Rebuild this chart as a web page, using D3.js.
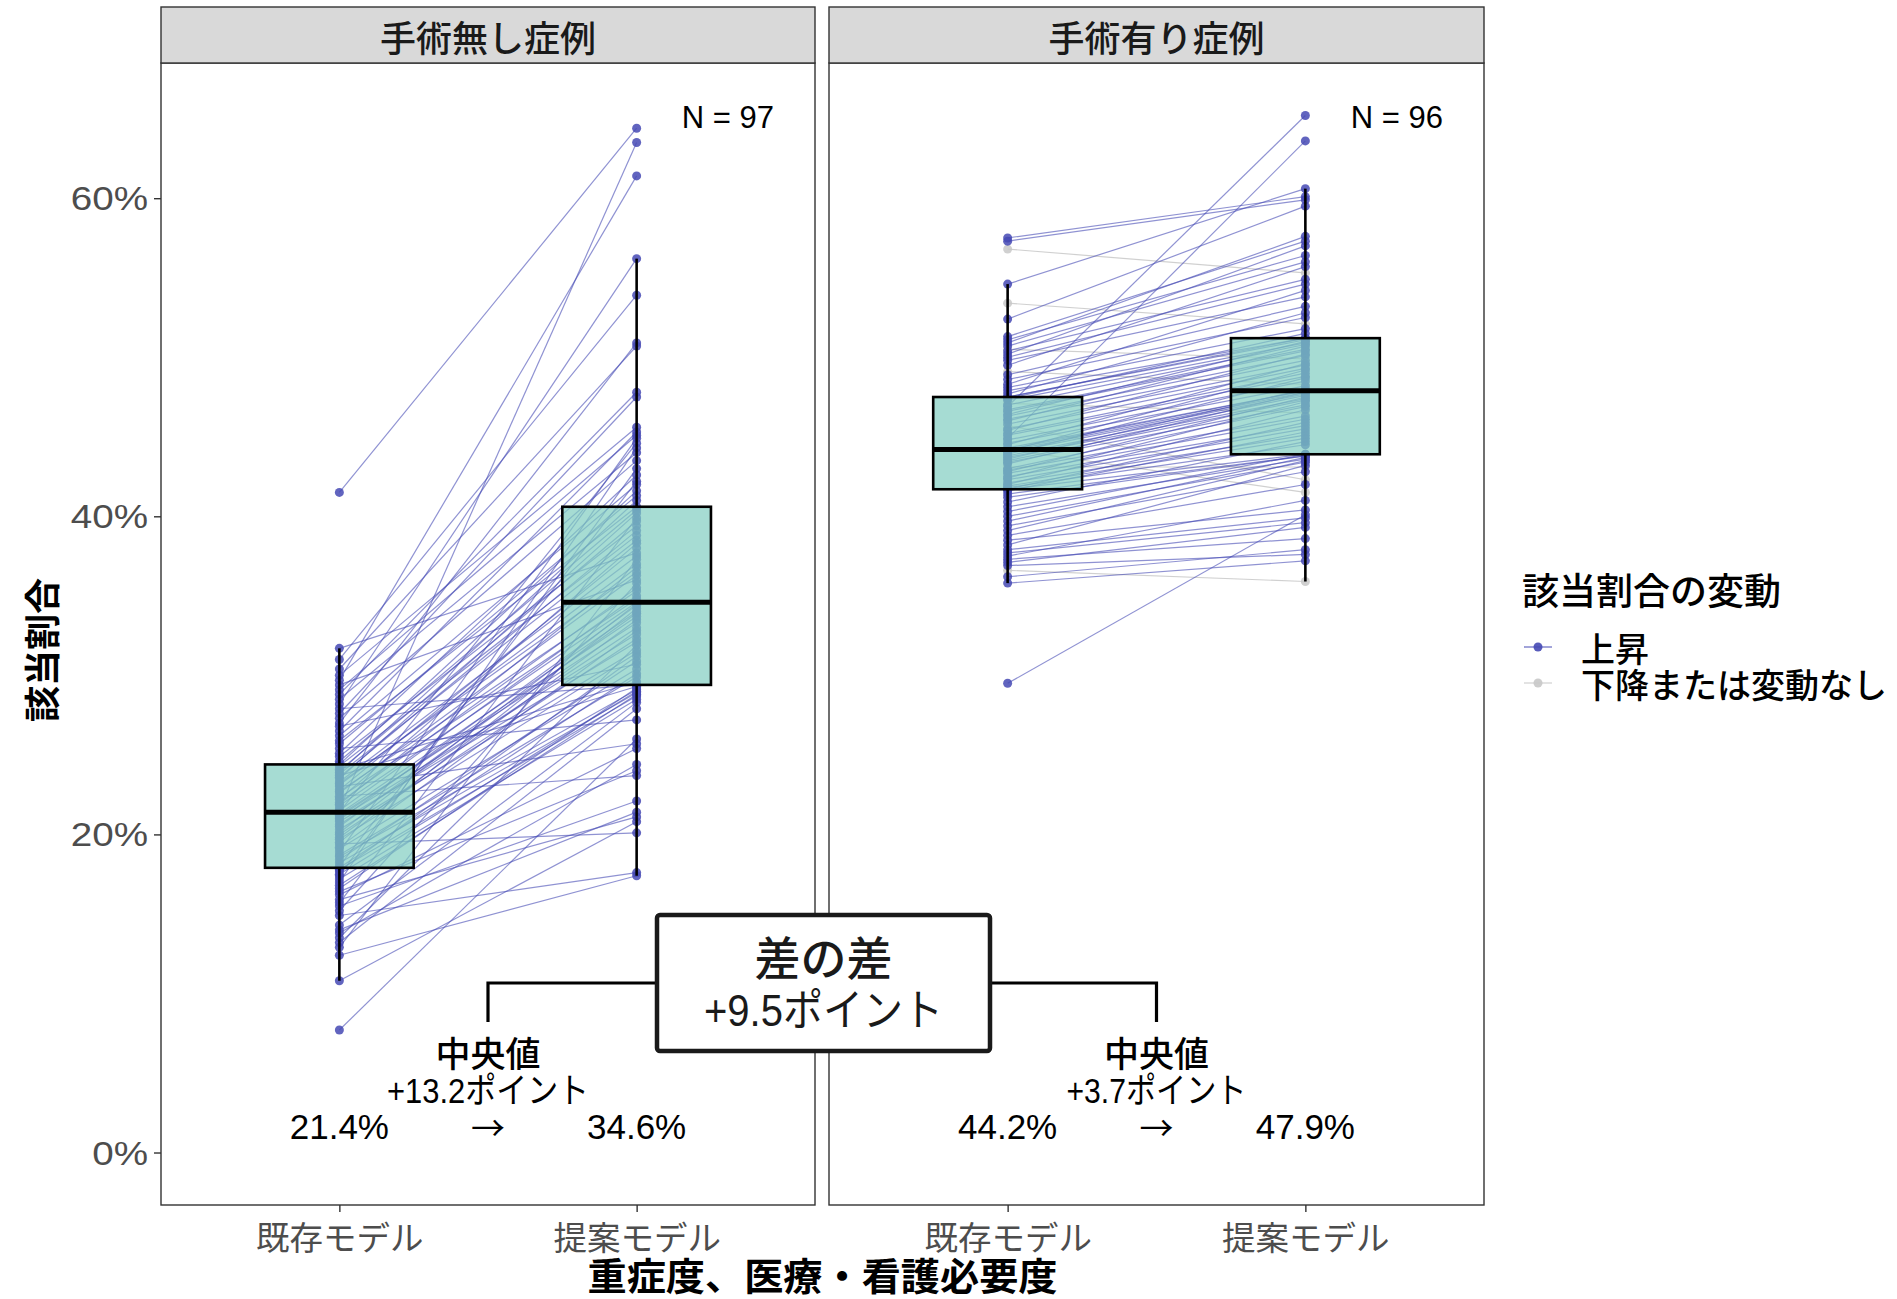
<!DOCTYPE html>
<html>
<head>
<meta charset="utf-8">
<script src="https://cdn.jsdelivr.net/npm/d3@7"></script>
<style>
  body { margin: 0; background: #ffffff; }
  svg { display: block; }
</style>
</head>
<body>
<svg id="chart" width="1897" height="1299"></svg>
<script>
// ---- data -----------------------------------------------------------------
const facets = ["手術無し症例", "手術有り症例"];
const models = ["既存モデル", "提案モデル"];
const yTicks = [0, 20, 40, 60];
const sampleSizes = [97, 96];

// 手術無し症例: 既存モデル / 提案モデル (same case order)
const noSurgeryExisting = [
  7.7, 10.8, 12.4, 12.9, 13.2, 13.5, 13.8, 14.0, 14.3, 14.9,
  15.2, 15.5, 15.7, 15.9, 16.2, 16.4, 16.6, 16.8, 17.0, 17.2,
  17.4, 17.5, 17.7, 17.8, 17.9, 18.0, 18.2, 18.4, 18.6, 18.7,
  18.9, 19.1, 19.2, 19.4, 19.5, 19.7, 19.8, 20.0, 20.1, 20.3,
  20.5, 20.6, 20.8, 20.9, 21.0, 21.1, 21.2, 21.3, 21.4, 21.5,
  21.6, 21.8, 21.9, 22.0, 22.2, 22.3, 22.4, 22.6, 22.7, 22.8,
  23.0, 23.1, 23.2, 23.3, 23.5, 23.6, 23.7, 23.8, 23.9, 24.0,
  24.1, 24.3, 24.4, 24.6, 24.9, 25.1, 25.4, 25.7, 25.9, 26.2,
  26.5, 26.8, 27.0, 27.3, 27.6, 27.9, 28.2, 28.5, 28.8, 29.1,
  29.4, 29.7, 30.0, 30.4, 31.0, 31.7, 41.5
];
const noSurgeryProposed = [
  26.0, 20.8, 17.4, 37.3, 27.9, 31.9, 24.4, 21.4, 28.3, 17.6,
  35.8, 22.1, 39.9, 21.1, 25.4, 24.0, 29.2, 28.8, 44.3, 28.5,
  43.0, 29.0, 31.2, 28.7, 30.1, 42.2, 28.9, 30.9, 29.1, 29.9,
  44.9, 30.4, 32.8, 20.1, 34.2, 31.4, 33.5, 32.3, 34.5, 31.6,
  33.9, 33.0, 32.1, 34.4, 32.6, 33.7, 33.3, 34.0, 44.6, 35.0,
  63.5, 34.6, 36.8, 35.5, 38.3, 34.8, 23.7, 36.3, 35.3, 38.0,
  25.7, 37.0, 36.5, 37.5, 40.2, 39.1, 29.3, 38.5, 41.0, 39.7,
  29.6, 38.8, 41.6, 40.4, 39.4, 42.6, 27.2, 41.3, 40.6, 42.0,
  45.3, 30.7, 50.9, 43.5, 47.5, 29.4, 56.2, 44.0, 47.8, 45.1,
  36.0, 61.4, 45.6, 50.7, 53.9, 37.7, 64.4
];

// 手術有り症例: 既存モデル / 提案モデル (same case order)
const surgeryExisting = [
  29.5, 35.8, 36.2, 36.6, 36.9, 37.1, 37.3, 37.5, 37.7, 37.9,
  38.2, 38.5, 38.8, 39.1, 39.4, 39.7, 40.0, 40.3, 40.6, 40.9,
  41.2, 41.4, 41.6, 41.7, 41.7, 41.8, 41.9, 42.0, 42.1, 42.3,
  42.4, 42.5, 42.7, 42.8, 42.9, 43.0, 43.1, 43.3, 43.4, 43.5,
  43.6, 43.7, 43.8, 43.9, 44.0, 44.1, 44.1, 44.2, 44.2, 44.3,
  44.5, 44.6, 44.8, 44.9, 45.1, 45.2, 45.4, 45.5, 45.7, 45.8,
  46.0, 46.1, 46.3, 46.4, 46.6, 46.7, 46.9, 47.0, 47.1, 47.3,
  47.4, 47.5, 47.5, 47.7, 47.9, 48.1, 48.3, 48.6, 48.9, 49.1,
  49.5, 49.8, 50.0, 50.2, 50.4, 50.5, 50.7, 50.9, 51.1, 51.3,
  52.4, 53.4, 54.6, 56.8, 57.3, 57.5
];
const surgeryProposed = [
  40.1, 37.2, 37.9, 35.9, 37.6, 39.3, 38.6, 41.0, 39.6, 39.9,
  43.2, 40.4, 42.0, 43.5, 42.8, 43.7, 43.4, 43.9, 43.6, 44.7,
  43.8, 43.8, 45.3, 43.9, 45.9, 44.5, 44.9, 46.7, 45.1, 45.5,
  47.2, 45.7, 46.1, 47.5, 46.3, 46.9, 43.1, 47.8, 47.0, 47.3,
  48.0, 47.4, 47.6, 48.7, 47.7, 47.8, 49.2, 41.5, 47.9, 47.9,
  49.6, 48.2, 48.5, 63.6, 48.8, 49.0, 50.2, 49.3, 42.3, 49.5,
  50.7, 49.8, 50.1, 51.0, 50.4, 50.5, 65.2, 50.8, 46.5, 50.9,
  51.5, 51.1, 51.2, 52.8, 51.2, 51.8, 54.2, 52.5, 53.2, 48.3,
  55.7, 53.8, 54.6, 57.0, 54.9, 49.9, 56.0, 57.6, 56.4, 57.3,
  59.5, 52.1, 60.6, 55.3, 59.9, 60.1
];

const legendTitle = "該当割合の変動";
const legendLabels = ["上昇", "下降または変動なし"];
const xTitle = "重症度、医療・看護必要度";
const yTitle = "該当割合";
const medianWord = "中央値";
const diffWord = "差の差";
const pointWord = "ポイント";

// ---- layout ---------------------------------------------------------------
const svg = d3.select("#chart");
const panelTop = 63, panelBottom = 1205, stripTop = 7;
const panelX = [[161, 815], [829, 1484]];
const y = d3.scaleLinear().domain([-3.3, 68.5]).range([panelBottom, panelTop]);

const latin = "'Liberation Sans', Arial, 'Noto Sans CJK JP', sans-serif";
const cjk = "'Noto Sans CJK JP', 'Noto Sans CJK SC', sans-serif";
const UP = "#4549b4", FLAT = "#c8c8c8", BOXFILL = "#80cdc1", INK = "#1a1a1a";
const fmt1 = d3.format(".1f");

const groups = [
  { existing: noSurgeryExisting, proposed: noSurgeryProposed },
  { existing: surgeryExisting, proposed: surgeryProposed }
];

function boxStats(vals) {
  const s = vals.slice().sort(d3.ascending);
  const q1 = d3.quantile(s, 0.25), med = d3.quantile(s, 0.5), q3 = d3.quantile(s, 0.75);
  const iqr = q3 - q1;
  const lo = d3.min(s.filter(v => v >= q1 - 1.5 * iqr));
  const hi = d3.max(s.filter(v => v <= q3 + 1.5 * iqr));
  return { q1, med, q3, lo, hi };
}

const medianInfo = [];

groups.forEach((g, i) => {
  const [x0, x1] = panelX[i];
  const x = d3.scalePoint().domain(models).range([x0, x1]).padding(0.6);
  const bw = x.step() * 0.5;
  const layer = svg.append("g");

  layer.append("rect")
    .attr("x", x0).attr("y", panelTop)
    .attr("width", x1 - x0).attr("height", panelBottom - panelTop)
    .attr("fill", "#ffffff");

  const pairs = g.existing.map((e, k) => ({ e, p: g.proposed[k], up: g.proposed[k] > e }));
  // falling / unchanged pairs underneath, rising pairs on top
  const ordered = pairs.filter(d => !d.up).concat(pairs.filter(d => d.up));

  layer.append("g").selectAll("line").data(ordered).join("line")
    .attr("x1", x(models[0])).attr("x2", x(models[1]))
    .attr("y1", d => y(d.e)).attr("y2", d => y(d.p))
    .attr("stroke", d => d.up ? UP : FLAT)
    .attr("stroke-opacity", d => d.up ? 0.6 : 0.85)
    .attr("stroke-width", 1.2);

  const pts = ordered.flatMap(d => [
    { m: models[0], v: d.e, up: d.up },
    { m: models[1], v: d.p, up: d.up }
  ]);
  layer.append("g").selectAll("circle").data(pts).join("circle")
    .attr("cx", d => x(d.m)).attr("cy", d => y(d.v)).attr("r", 4.5)
    .attr("fill", d => d.up ? UP : FLAT)
    .attr("fill-opacity", 0.85);

  const stats = [g.existing, g.proposed].map(boxStats);
  stats.forEach((st, j) => {
    const cx = x(models[j]);
    const bx = layer.append("g");
    bx.append("line").attr("x1", cx).attr("x2", cx).attr("y1", y(st.hi)).attr("y2", y(st.q3))
      .attr("stroke", "#000").attr("stroke-width", 2.6);
    bx.append("line").attr("x1", cx).attr("x2", cx).attr("y1", y(st.q1)).attr("y2", y(st.lo))
      .attr("stroke", "#000").attr("stroke-width", 2.6);
    bx.append("rect")
      .attr("x", cx - bw / 2).attr("y", y(st.q3))
      .attr("width", bw).attr("height", y(st.q1) - y(st.q3))
      .attr("fill", BOXFILL).attr("fill-opacity", 0.7)
      .attr("stroke", "#000").attr("stroke-width", 2.6);
    bx.append("line").attr("x1", cx - bw / 2).attr("x2", cx + bw / 2)
      .attr("y1", y(st.med)).attr("y2", y(st.med))
      .attr("stroke", "#000").attr("stroke-width", 5);
  });

  // panel border
  layer.append("rect")
    .attr("x", x0).attr("y", panelTop)
    .attr("width", x1 - x0).attr("height", panelBottom - panelTop)
    .attr("fill", "none").attr("stroke", "#333333").attr("stroke-width", 1.4);

  // strip
  layer.append("rect")
    .attr("x", x0).attr("y", stripTop)
    .attr("width", x1 - x0).attr("height", panelTop - stripTop)
    .attr("fill", "#d9d9d9").attr("stroke", "#333333").attr("stroke-width", 1.4);
  layer.append("text")
    .attr("x", (x0 + x1) / 2).attr("y", (stripTop + panelTop) / 2 + 1)
    .attr("text-anchor", "middle").attr("dominant-baseline", "central")
    .style("font-family", cjk).style("font-size", "36px").style("font-weight", 500).attr("fill", INK)
    .text(facets[i]);

  // sample size
  layer.append("text")
    .attr("x", x1 - 41).attr("y", 117)
    .attr("text-anchor", "end").attr("dominant-baseline", "central")
    .style("font-family", latin).style("font-size", "31px").attr("fill", "#000")
    .text(`N = ${sampleSizes[i]}`);

  // x axis
  const xa = svg.append("g").attr("transform", `translate(0,${panelBottom})`)
    .call(d3.axisBottom(x).tickSize(7));
  xa.select(".domain").remove();
  xa.selectAll(".tick line").attr("stroke", "#333333").attr("stroke-width", 1.4);
  xa.selectAll(".tick text")
    .attr("y", 30).attr("dy", null).attr("dominant-baseline", "central")
    .style("font-family", cjk).style("font-size", "33.5px").attr("fill", "#4d4d4d")
    .text(d => d);

  // median annotation
  const mx = (x(models[0]) + x(models[1])) / 2;
  const change = stats[1].med - stats[0].med;
  medianInfo.push({ mx, change });
  const ann = svg.append("g").attr("fill", "#000")
    .attr("text-anchor", "middle").attr("dominant-baseline", "central");
  ann.append("text").attr("x", mx).attr("y", 1051)
    .style("font-family", cjk).style("font-size", "35px").style("font-weight", 500)
    .attr("textLength", 105).attr("lengthAdjust", "spacingAndGlyphs")
    .text(medianWord);
  ann.append("text").attr("x", mx).attr("y", 1090)
    .style("font-family", latin).style("font-size", "35px")
    .attr("textLength", i === 0 ? 202 : 180).attr("lengthAdjust", "spacingAndGlyphs")
    .text(`+${fmt1(change)}${pointWord}`);
  ann.append("text").attr("x", x(models[0])).attr("y", 1126)
    .style("font-family", latin).style("font-size", "35px")
    .text(`${fmt1(stats[0].med)}%`);
  ann.append("text").attr("x", mx).attr("y", 1126)
    .style("font-family", cjk).style("font-size", "34px")
    .text("→");
  ann.append("text").attr("x", x(models[1])).attr("y", 1126)
    .style("font-family", latin).style("font-size", "35px")
    .text(`${fmt1(stats[1].med)}%`);
});

// y axis (left panel only)
const ya = svg.append("g").attr("transform", `translate(${panelX[0][0]},0)`)
  .call(d3.axisLeft(y).tickValues(yTicks).tickFormat(d => `${d}%`).tickSize(7).tickPadding(6));
ya.select(".domain").remove();
ya.selectAll(".tick line").attr("stroke", "#333333").attr("stroke-width", 1.4);
ya.selectAll(".tick text")
  .attr("dy", null).attr("dominant-baseline", "central")
  .style("font-family", latin).style("font-size", "33px").attr("fill", "#4d4d4d")
  .each(function () {
    const w = this.getComputedTextLength();
    d3.select(this).attr("textLength", w * 1.17).attr("lengthAdjust", "spacingAndGlyphs");
  });

// difference-in-differences callout
const boxL = 657, boxR = 990, boxT = 915, boxB = 1051, linkY = 983, linkBottom = 1022;
const callout = svg.append("g");
callout.append("path")
  .attr("d", `M${boxL},${linkY}H${medianInfo[0].mx}V${linkBottom}M${boxR},${linkY}H${medianInfo[1].mx}V${linkBottom}`)
  .attr("fill", "none").attr("stroke", "#000").attr("stroke-width", 3.2);
callout.append("rect")
  .attr("x", boxL).attr("y", boxT).attr("width", boxR - boxL).attr("height", boxB - boxT)
  .attr("rx", 3).attr("fill", "#ffffff").attr("stroke", "#1a1a1a").attr("stroke-width", 4.5);
callout.append("text")
  .attr("x", (boxL + boxR) / 2).attr("y", 955)
  .attr("text-anchor", "middle").attr("dominant-baseline", "central")
  .style("font-family", cjk).style("font-size", "46px").style("font-weight", 500).attr("fill", INK)
  .text(diffWord);
callout.append("text")
  .attr("x", (boxL + boxR) / 2).attr("y", 1010)
  .attr("text-anchor", "middle").attr("dominant-baseline", "central")
  .style("font-family", latin).style("font-size", "44px").attr("fill", INK)
  .attr("textLength", 239).attr("lengthAdjust", "spacingAndGlyphs")
  .text(`+${fmt1(medianInfo[0].change - medianInfo[1].change)}${pointWord}`);

// axis titles
svg.append("text")
  .attr("x", (panelX[0][0] + panelX[1][1]) / 2).attr("y", 1273)
  .attr("text-anchor", "middle").attr("dominant-baseline", "central")
  .style("font-family", cjk).style("font-size", "38px").style("font-weight", "bold").attr("fill", "#000")
  .attr("textLength", 470).attr("lengthAdjust", "spacingAndGlyphs")
  .text(xTitle);
svg.append("text")
  .attr("transform", `translate(40,650) rotate(-90)`)
  .attr("text-anchor", "middle").attr("dominant-baseline", "central")
  .style("font-family", cjk).style("font-size", "36px").style("font-weight", "bold").attr("fill", "#000")
  .text(yTitle);

// legend
const lg = svg.append("g");
lg.append("text")
  .attr("x", 1522).attr("y", 589).attr("dominant-baseline", "central")
  .style("font-family", cjk).style("font-size", "37px").style("font-weight", 500).attr("fill", "#000")
  .text(legendTitle);
const legendItems = legendLabels.map((label, k) => ({ label, color: k === 0 ? UP : FLAT, yy: [647, 683][k] }));
const li = lg.selectAll("g.item").data(legendItems).join("g").attr("class", "item");
li.append("line")
  .attr("x1", 1524).attr("x2", 1552).attr("y1", d => d.yy).attr("y2", d => d.yy)
  .attr("stroke", d => d.color).attr("stroke-opacity", 0.7).attr("stroke-width", 1.4);
li.append("circle")
  .attr("cx", 1538).attr("cy", d => d.yy).attr("r", 4.5)
  .attr("fill", d => d.color).attr("fill-opacity", 0.9);
li.append("text")
  .attr("x", 1581).attr("y", d => d.yy).attr("dominant-baseline", "central")
  .style("font-family", cjk).style("font-size", "34px").style("font-weight", 500).attr("fill", "#000")
  .text(d => d.label);
</script>
</body>
</html>
